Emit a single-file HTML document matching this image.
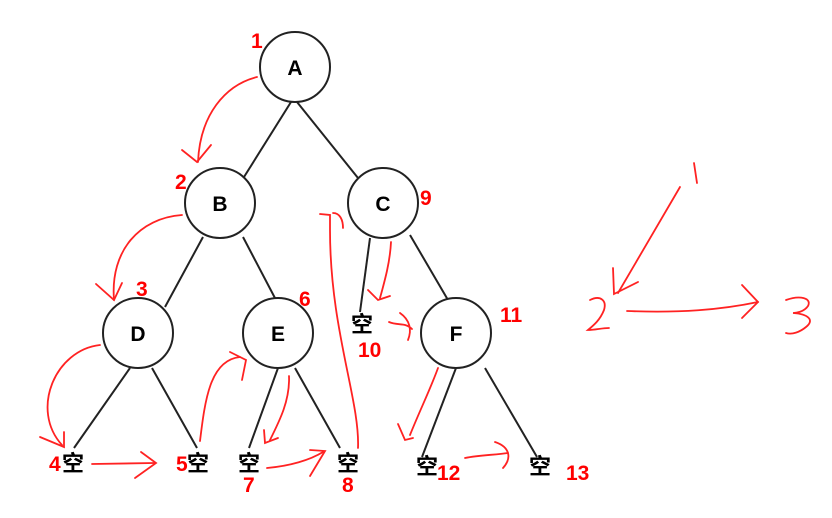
<!DOCTYPE html>
<html><head><meta charset="utf-8"><style>
html,body{margin:0;padding:0;background:#fff;}
svg{display:block;}
.n{font-family:"Liberation Sans",sans-serif;font-weight:bold;font-size:21px;text-anchor:middle;fill:#000;}
.k{font-family:"Liberation Sans","Noto Sans CJK SC",sans-serif;font-size:22px;font-weight:bold;text-anchor:middle;fill:#000;}
.r{font-family:"Liberation Sans",sans-serif;font-weight:bold;font-size:21px;fill:#f00;}
</style></head><body>
<svg width="832" height="518" viewBox="0 0 832 518" xmlns="http://www.w3.org/2000/svg">
<g stroke="#222" stroke-width="2" fill="none">
<line x1="291" y1="102" x2="244" y2="177"/>
<line x1="297" y1="102" x2="358" y2="178"/>
<line x1="203" y1="237" x2="165" y2="307"/>
<line x1="243" y1="237" x2="276" y2="300"/>
<line x1="130" y1="368" x2="74" y2="448"/>
<line x1="152" y1="368" x2="197" y2="448"/>
<line x1="278" y1="368" x2="249" y2="448"/>
<line x1="295" y1="368" x2="340" y2="448"/>
<line x1="370" y1="238" x2="360" y2="312"/>
<line x1="410" y1="235" x2="448" y2="300"/>
<line x1="456" y1="368" x2="422" y2="457"/>
<line x1="485" y1="368" x2="537" y2="457"/>
<circle cx="295" cy="67" r="35" fill="#fff"/>
<circle cx="220" cy="203" r="35" fill="#fff"/>
<circle cx="383" cy="203" r="35" fill="#fff"/>
<circle cx="138" cy="333" r="35" fill="#fff"/>
<circle cx="278" cy="333" r="35" fill="#fff"/>
<circle cx="456" cy="333" r="35" fill="#fff"/>
</g>
<text class="n" x="295" y="75">A</text>
<text class="n" x="220" y="211">B</text>
<text class="n" x="383" y="211">C</text>
<text class="n" x="138" y="341">D</text>
<text class="n" x="278" y="341">E</text>
<text class="n" x="456" y="341">F</text>
<text class="k" x="73" y="471">空</text>
<text class="k" x="198" y="471">空</text>
<text class="k" x="249" y="471">空</text>
<text class="k" x="348" y="471">空</text>
<text class="k" x="427" y="474">空</text>
<text class="k" x="540" y="474">空</text>
<text class="k" x="362" y="332">空</text>
<g class="r">
<text x="251" y="48">1</text>
<text x="175" y="189">2</text>
<text x="136" y="296">3</text>
<text x="49" y="471">4</text>
<text x="176" y="471">5</text>
<text x="299" y="306">6</text>
<text x="243" y="492">7</text>
<text x="342" y="492">8</text>
<text x="420" y="205">9</text>
<text x="358" y="357">10</text>
<text x="500" y="322">11</text>
<text x="437" y="480">12</text>
<text x="566" y="480">13</text>
</g>
<g stroke="#f22" stroke-width="1.8" fill="none" stroke-linecap="round">
<path d="M257 77 C225 85 200 115 198 162"/><path d="M182 150 L197 162 L211 145"/>
<path d="M182 215 C140 218 110 250 114 300"/><path d="M96 284 L114 300 L122 283"/>
<path d="M100 345 C55 350 30 410 62 445"/><path d="M40 437 L64 447 L64 432"/>
<path d="M92 464 L155 463"/><path d="M141 452 L156 463 L135 478"/>
<path d="M200 441 C205 400 210 360 240 357"/><path d="M230 352 L246 360 L242 380"/>
<path d="M289 376 C290 400 280 420 270 440"/><path d="M264 430 L265 443 L278 438"/>
<path d="M267 468 C290 466 310 460 323 452"/><path d="M310 450 L325 451 L310 476"/>
<path d="M358 448 C360 400 330 330 330 230 L330 215 L320 214"/><path d="M333 213 C340 213 343 220 343 228"/>
<path d="M391 242 C390 262 385 280 380 298"/><path d="M368 290 L378 300 L390 296"/>
<path d="M389 322 C398 326 405 322 412 329"/><path d="M400 313 C410 320 412 330 408 340"/>
<path d="M438 368 C430 390 420 410 410 435"/><path d="M398 424 L405 440 L413 438"/>
<path d="M465 458 C480 455 495 455 508 453"/><path d="M495 442 C510 447 512 458 503 468"/>
<path d="M694 163 L697 183"/>
<path d="M680 187 L618 293"/><path d="M613 268 L614 294 L638 282"/>
<path d="M590 300 C600 295 607 300 604 310 C600 320 594 325 588 330 C595 330 602 328 609 328"/>
<path d="M627 311 C680 313 720 310 758 302"/><path d="M742 285 L758 302 L742 318"/>
<path d="M786 300 C800 295 812 298 808 306 C804 312 796 313 793 313 C808 314 815 320 806 327 C800 332 792 335 786 333"/>
</g>
</svg>
</body></html>
